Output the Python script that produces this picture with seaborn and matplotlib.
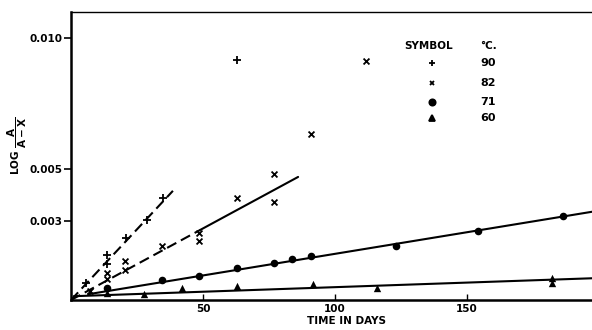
import matplotlib
matplotlib.use("Agg")
import matplotlib.pyplot as plt
import numpy as np
import pandas as pd
import seaborn as sns

days_90 = [5.7, 13.5, 13.5, 21, 28.7, 34.7, 62.8]
vals_90 = [0.00066, 0.00139, 0.00170, 0.00236, 0.00305, 0.00389, 0.00916]

days_82 = [7.2, 13.5, 13.5, 20.5, 20.5, 34.6, 48.5, 48.5, 62.8, 77, 77, 90.8, 111.7]
vals_82 = [0.00036, 0.00081, 0.00104, 0.00114, 0.00148, 0.00205, 0.00256, 0.00227,
           0.00390, 0.00483, 0.00373, 0.00634, 0.00911]

days_71 = [13.5, 34.6, 48.5, 62.8, 77, 83.6, 90.8, 123.1, 154, 186.5]
vals_71 = [0.00046, 0.00078, 0.00091, 0.00123, 0.00142, 0.00157, 0.00169, 0.00205,
           0.00265, 0.00322]

days_60 = [13.5, 27.7, 41.9, 62.8, 91.5, 115.8, 182, 182]
vals_60 = [0.00028, 0.00023, 0.00047, 0.00055, 0.00061, 0.00045, 0.00083, 0.00065]

# hand-drawn fitted lines (end points)
fit90_days, fit90_vals = [0, 38.6], [0.0, 0.00417]
fit82a_days, fit82a_vals = [0, 49], [0.0, 0.00268]
fit82b_days, fit82b_vals = [49, 86], [0.00268, 0.0047]
fit71_days, fit71_vals = [6.5, 197.3], [0.00022, 0.00337]
fit60_days, fit60_vals = [1, 197.3], [0.000145, 0.00083]

legend_temps = ["90", "82", "71", "60"]
legend_markers = ["+", "x", "o", "^"]

sns.set_style("ticks")
ink = "black"
plt.rcParams.update({
    "font.family": ["DejaVu Sans"],
    "font.weight": "bold",
    "mathtext.fontset": "dejavusans",
    "mathtext.default": "bf",
    "text.color": ink,
    "axes.labelcolor": ink,
    "axes.edgecolor": ink,
    "xtick.color": ink,
    "ytick.color": ink,
})

W, H = 592, 330
fig = plt.figure(figsize=(W / 100, H / 100), dpi=100)
ax = fig.add_axes([71 / W, 30 / H, 521 / W, 288 / H])

series = [
    (days_90, vals_90, "+", 28, 1.3),
    (days_82, vals_82, "x", 18, 1.3),
    (days_71, vals_71, "o", 30, 0),
    (days_60, vals_60, "^", 28, 0),
]
for d, v, m, s, lw in series:
    df = pd.DataFrame({"day": d, "val": v})
    sns.scatterplot(data=df, x="day", y="val", marker=m, s=s, color=ink,
                    linewidth=lw, edgecolor=ink, ax=ax, zorder=3)

dash = (0, (5, 2.5))
fits = [
    (fit90_days, fit90_vals, dash),
    (fit82a_days, fit82a_vals, dash),
    (fit82b_days, fit82b_vals, "-"),
    (fit71_days, fit71_vals, "-"),
    (fit60_days, fit60_vals, "-"),
]
for d, v, ls in fits:
    df = pd.DataFrame({"day": d, "val": v})
    sns.lineplot(data=df, x="day", y="val", color=ink, lw=1.5, ax=ax, linestyle=ls)

ax.set_xlim(0, 197.3)
ax.set_ylim(0, 0.011)
ax.set_xticks([50, 100, 150])
ax.set_xticklabels(["50", "100", "150"])
ax.set_yticks([0.003, 0.005, 0.010])
ax.set_yticklabels(["0.003", "0.005", "0.010"])
ax.tick_params(axis="x", direction="in", length=4, width=1, labelsize=7.5, pad=3)
ax.tick_params(axis="y", direction="out", length=5, width=1.2, labelsize=7.5, pad=1)

for side in ["left", "bottom"]:
    ax.spines[side].set_linewidth(1.8)
ax.spines["top"].set_visible(True)
ax.spines["top"].set_linewidth(1.0)
ax.spines["right"].set_visible(False)

ax.set_xlabel("TIME IN DAYS", fontsize=7.5, fontweight="bold")
ax.xaxis.set_label_coords(0.528, -0.055)
ax.set_ylabel("")
fig.text(17 / W, 1 - 146 / H, r"LOG $\dfrac{A}{A-X}$", rotation=90,
         ha="center", va="center", fontsize=7.5, fontweight="bold")

# legend table drawn by hand, as in the original
ax.text(0.686, 0.883, "SYMBOL", transform=ax.transAxes, ha="center", va="center",
        fontsize=7.5, fontweight="bold")
ax.text(0.785, 0.883, "°C.", transform=ax.transAxes, ha="left", va="center",
        fontsize=7.5, fontweight="bold")
rows_y = [0.823, 0.753, 0.687, 0.631]
marker_sizes = [5, 3.5, 4.5, 4.5]
for ty, t, m, ms in zip(rows_y, legend_temps, legend_markers, marker_sizes):
    ax.plot([0.692], [ty], marker=m, ms=ms, mew=1.3, color=ink,
            transform=ax.transAxes, clip_on=False)
    ax.text(0.785, ty, t, transform=ax.transAxes, ha="left", va="center",
            fontsize=8, fontweight="bold")

fig.savefig("out.png", dpi=100)
plt.close(fig)
